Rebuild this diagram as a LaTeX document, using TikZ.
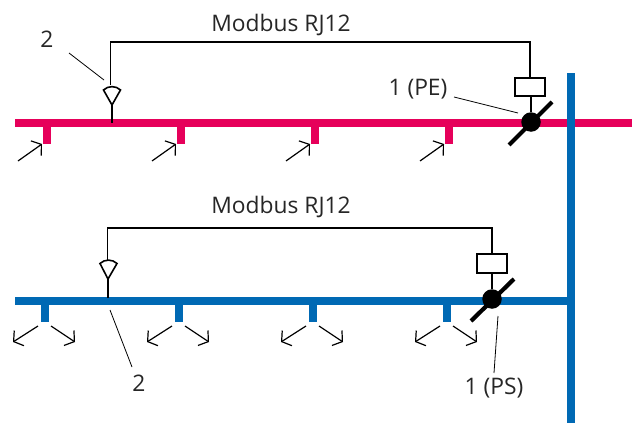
\documentclass[tikz,border=0pt]{standalone}
\usepackage{fontspec}
\setmainfont{Open Sans}
\usetikzlibrary{arrows.meta}
\definecolor{pered}{HTML}{E6005A}
\definecolor{psblue}{HTML}{0069B4}
\begin{document}
\begin{tikzpicture}[x=1pt,y=-1pt]

    \tikzset{
      bus/.style={line width=8pt},
      wire/.style={black,line width=1.6pt},
      leader/.style={black,line width=0.8pt},
      flap/.style={black,line width=4.2pt},
      outlet/.style={black,line width=1.2pt,-{Straight Barb[length=6.5pt,width=18pt,line width=1.2pt]}},
      label/.style={anchor=center,inner sep=0pt,font=\fontsize{22.8}{24}\selectfont,text=black!85},
      actuator/.style={draw=black,line width=1.6pt,fill=white,inner sep=0pt,minimum width=30.5pt,minimum height=18.5pt},
      valve/.style={circle,fill=black,inner sep=0pt,minimum size=19.5pt},
    }
    \useasboundingbox (0,0) rectangle (632,423);

    % mains
    \coordinate (peL) at (15,123);
    \coordinate (peR) at (632,123);
    \coordinate (psL) at (15,301);
    \coordinate (psR) at (571,301);
    \coordinate (riserT) at (571,73);
    \coordinate (riserB) at (571,423);
    \draw[bus,pered] (peL)--(peR);
    \draw[bus,psblue] (psL)--(psR);
    \draw[bus,psblue] (riserT)--(riserB);

    % branches
    \foreach \i/\x in {1/47,2/181,3/315,4/449}{
      \coordinate (peA\i) at (\x,123);
      \coordinate (peB\i) at (\x,144);
      \draw[bus,pered] (peA\i)--(peB\i);
      \coordinate (inA\i) at (\x-29,161);
      \coordinate (inB\i) at (\x-5,144);
      \draw[outlet] (inA\i)--(inB\i);
    }
    \foreach \i/\x in {1/45,2/179,3/313,4/447}{
      \coordinate (psA\i) at (\x,301);
      \coordinate (psB\i) at (\x,322);
      \draw[bus,psblue] (psA\i)--(psB\i);
      \coordinate (outL\i) at (\x-7,326);
      \coordinate (outLe\i) at (\x-32,342);
      \coordinate (outR\i) at (\x+6,326);
      \coordinate (outRe\i) at (\x+30,342);
      \draw[outlet] (outL\i)--(outLe\i);
      \draw[outlet] (outR\i)--(outRe\i);
    }

    % PE line
    \node[actuator] (boxPE) at (530,87) {};
    \node[valve] (valvePE) at (531,122) {};
    \coordinate (flapPEa) at (509,145);
    \coordinate (flapPEb) at (552,102);
    \draw[flap] (flapPEa)--(flapPEb);
    \draw[wire] (boxPE.south -| valvePE)--(valvePE);
    \coordinate (tipPE) at (112,105);
    \coordinate (basePE) at (112,123);
    \coordinate (cornerPE) at (110.5,42);
    \coordinate (topPE) at (110.5,85);
    \draw[wire] (tipPE)--(basePE);
    \draw[wire] (topPE)--(cornerPE)--(cornerPE -| boxPE)--(boxPE.north);
    \draw[wire,fill=white,line join=miter] (tipPE)--(103.5,90) .. controls (108,85.5) and (116,85.5) .. (120.5,90)--cycle;

    % PS line
    \node[actuator] (boxPS) at (492,263.5) {};
    \node[valve] (valvePS) at (492,299) {};
    \coordinate (flapPSa) at (471,321);
    \coordinate (flapPSb) at (514,279);
    \draw[flap] (flapPSa)--(flapPSb);
    \draw[wire] (boxPS.south)--(valvePS);
    \coordinate (tipPS) at (108,279);
    \coordinate (basePS) at (108,298);
    \coordinate (cornerPS) at (107.5,228);
    \coordinate (topPS) at (107.5,261);
    \draw[wire] (tipPS)--(basePS);
    \draw[wire] (topPS)--(cornerPS)--(cornerPS -| boxPS)--(boxPS.north);
    \draw[wire,fill=white,line join=miter] (tipPS)--(100,263.5) .. controls (104.5,259) and (112.5,259) .. (117,263.5)--cycle;

    % labels
    \node[label] (modbusPE) at (281,25) {Modbus RJ12};
    \node[label] (modbusPS) at (281,207) {Modbus RJ12};
    \node[label] (sensorPE) at (47,39) {2};
    \node[label] (sensorPS) at (139,383) {2};
    \node[label] (damperPE) at (418,89) {1 (PE)};
    \node[label] (damperPS) at (494,388) {1 (PS)};
    \coordinate (lineA) at (69,53);
    \coordinate (lineB) at (104,80);
    \coordinate (lineC) at (454,97);
    \coordinate (lineD) at (518,113);
    \coordinate (lineE) at (110,310);
    \coordinate (lineF) at (132,367);
    \coordinate (lineG) at (498,316);
    \coordinate (lineH) at (494,373);
    \draw[leader] (lineA)--(lineB);
    \draw[leader] (lineC)--(lineD);
    \draw[leader] (lineE)--(lineF);
    \draw[leader] (lineG)--(lineH);

\end{tikzpicture}
\end{document}
